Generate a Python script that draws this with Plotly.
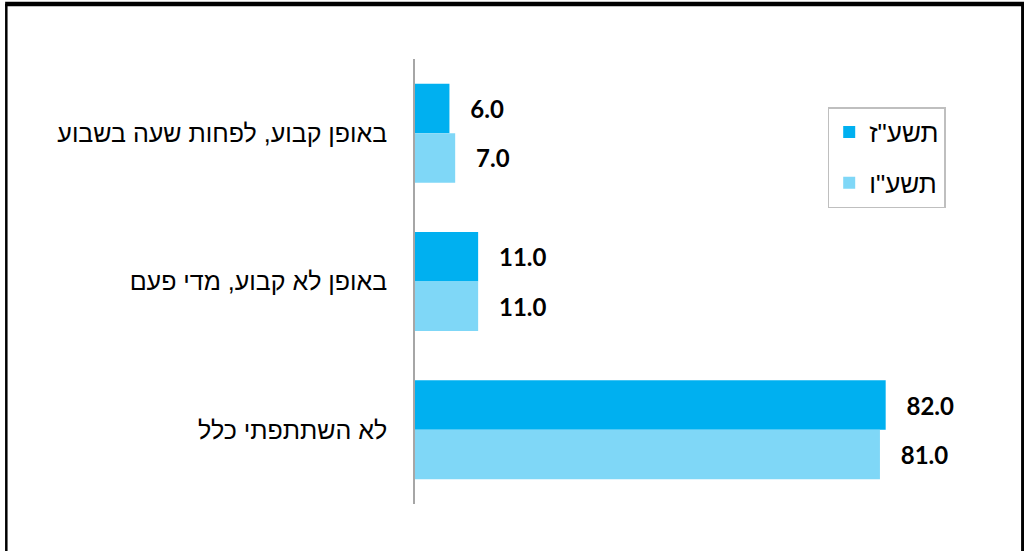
import plotly.graph_objects as go

categories = ["באופן קבוע, לפחות שעה בשבוע", "באופן לא קבוע, מדי פעם", "לא השתתפתי כלל"]
series_names = ['תשע"ז', 'תשע"ו']
values_2017 = [6.0, 11.0, 82.0]
values_2016 = [7.0, 11.0, 81.0]
colors = ["#00B0F0", "#7FD7F7"]

fig = go.Figure()
for name, vals, col in zip(series_names, [values_2017, values_2016], colors):
    fig.add_trace(go.Bar(
        y=categories, x=vals, orientation="h", name=name,
        marker=dict(color=col, line=dict(width=0)),
        text=["\u2002\u00a0" + f"{v:.1f}" for v in vals],
        textposition="outside", cliponaxis=False,
        textfont=dict(family="Lato", size=24, color="#000000", weight="bold"),
        legendgroup=name,
    ))

fig.update_layout(
    width=1024, height=551,
    margin=dict(l=415, r=35, t=59, b=47),
    paper_bgcolor="white", plot_bgcolor="white",
    barmode="group", bargap=0.333, bargroupgap=0,
    showlegend=True,
    legend=dict(x=0.719, y=0.892, xanchor="left", yanchor="top",
                bordercolor="#BFBFBF", borderwidth=1.5, bgcolor="white",
                font=dict(family="Liberation Sans", size=26, color="#000000"),
                traceorder="grouped", tracegroupgap=14),
    xaxis=dict(range=[0, 100], visible=False, showgrid=False, zeroline=False),
    yaxis=dict(autorange="reversed", showline=True, linecolor="#A6A6A6", linewidth=1.5,
               ticks="", ticklabelstandoff=21, showgrid=False,
               tickfont=dict(family="Liberation Sans", size=25, color="#000000")),
    shapes=[
        dict(type="line", xref="paper", yref="paper", x0=-0.712, x1=-0.712, y0=1.124, y1=-0.2,
             line=dict(color="black", width=2.5)),
        dict(type="line", xref="paper", yref="paper", x0=1.0585, x1=1.0585, y0=1.124, y1=-0.2,
             line=dict(color="black", width=3)),
        dict(type="line", xref="paper", yref="paper", x0=-0.714, x1=1.062, y0=1.1236, y1=1.1236,
             line=dict(color="black", width=4.5)),
    ],
)

fig.write_html("out.html", config={"displayModeBar": False},
               post_script="document.body.style.margin='0';document.body.style.overflow='hidden';")
